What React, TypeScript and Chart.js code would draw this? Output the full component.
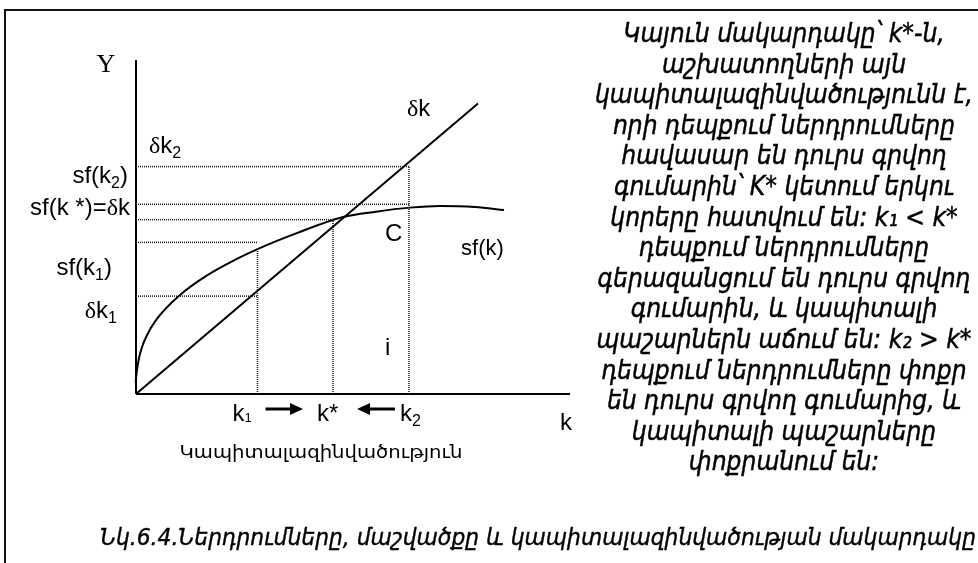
import React, { useEffect, useRef } from "react";
import { Chart, registerables } from "chart.js";

Chart.register(...registerables);

const W = 978;
const H = 563;

// capital per worker: k1, k*, k2
const kNames = ["1", "*", "2"];
const kValues = [2.8, 4.54, 6.29];

// horizontal reference levels: δk2, sf(k2), sf(k*), sf(k1), δk1
const levelValues = [6.81, 5.68, 5.22, 4.54, 2.93];
const levelEndK = [6.29, 6.29, 4.54, 2.8, 2.8];
// top of vertical guides at k1, k*, k2
const dropTops = [4.31, 5.22, 6.81];

// saving curve sf(k)
const curveK = [-0.06, -0.01, 0.023, 0.069, 0.138, 0.23, 0.46, 1.01, 1.61, 2.3, 2.8, 3.69, 4.77, 5.53, 6.31, 7.0, 7.81, 8.48];
const curveY = [-0.12, 0.35, 0.72, 1.08, 1.4, 1.7, 2.21, 2.96, 3.53, 4.03, 4.34, 4.81, 5.3, 5.46, 5.58, 5.63, 5.6, 5.51];

// depreciation line δk
const deltaK = [0, 7.88];
const deltaY = [0, 8.7];

const axisMaxK = 10;
const axisMaxY = 10;

const paragraph = [
  "Կայուն մակարդակը՝ k*-ն,",
  "աշխատողների այն",
  "կապիտալազինվածությունն է,",
  "որի դեպքում ներդրումները",
  "հավասար են դուրս գրվող",
  "գումարին՝ K* կետում երկու",
  "կորերը հատվում են: k₁ < k*",
  "դեպքում ներդրումները",
  "գերազանցում են դուրս գրվող",
  "գումարին, և կապիտալի",
  "պաշարներն աճում են: k₂ > k*",
  "դեպքում ներդրումները փոքր",
  "են դուրս գրվող գումարից, և",
  "կապիտալի պաշարները",
  "փոքրանում են:",
];
const caption = "Նկ.6.4.Ներդրումները, մաշվածքը և կապիտալազինվածության մակարդակը";
const xTitle = "Կապիտալազինվածություն";

const SANS = '"Liberation Sans", Arial, sans-serif';
const SERIF = '"Liberation Serif", "Times New Roman", serif';
const ARM = '"DejaVu Sans", sans-serif';

type Seg = { t: string; f: string; dy?: number; dx?: number };

function drawRich(ctx: CanvasRenderingContext2D, segs: Seg[], x: number, y: number, align: "left" | "right" | "center") {
  let w = 0;
  for (const s of segs) {
    ctx.font = s.f;
    w += ctx.measureText(s.t).width + (s.dx || 0);
  }
  let cx = align === "left" ? x : align === "right" ? x - w : x - w / 2;
  for (const s of segs) {
    ctx.font = s.f;
    cx += s.dx || 0;
    ctx.fillText(s.t, cx, y + (s.dy || 0));
    cx += ctx.measureText(s.t).width;
  }
}

function arrow(ctx: CanvasRenderingContext2D, x0: number, x1: number, y: number) {
  const dir = x1 > x0 ? 1 : -1;
  const hl = 13;
  ctx.beginPath();
  ctx.lineWidth = 3;
  ctx.moveTo(x0, y);
  ctx.lineTo(x1 - dir * hl, y);
  ctx.stroke();
  ctx.beginPath();
  ctx.moveTo(x1, y);
  ctx.lineTo(x1 - dir * hl, y - 6);
  ctx.lineTo(x1 - dir * hl, y + 6);
  ctx.closePath();
  ctx.fill();
}

function fitText(
  ctx: CanvasRenderingContext2D,
  text: string,
  font: string,
  x: number,
  y: number,
  scale: number,
  align: "left" | "center",
  bold = 0
) {
  ctx.save();
  ctx.font = font;
  const w = ctx.measureText(text).width * scale;
  const left = align === "left" ? x : x - w / 2;
  ctx.translate(left, y);
  ctx.scale(scale, 1);
  ctx.fillText(text, 0, 0);
  if (bold > 0) {
    ctx.lineWidth = bold;
    ctx.lineJoin = "round";
    ctx.strokeText(text, 0, 0);
  }
  ctx.restore();
}

const labelPlugin = {
  id: "solowLabels",
  afterDatasetsDraw(chart: any) {
    const ctx: CanvasRenderingContext2D = chart.ctx;
    const xs = chart.scales.x;
    const ys = chart.scales.y;
    const X = (v: number) => xs.getPixelForValue(v);
    const Y = (v: number) => ys.getPixelForValue(v);
    const left = X(0);
    ctx.save();
    ctx.fillStyle = "#000";
    ctx.strokeStyle = "#000";
    ctx.textBaseline = "alphabetic";
    ctx.textAlign = "left";

    const f24 = `24px ${SANS}`;
    const sub = `16px ${SANS}`;
    const d24 = `24px ${SERIF}`;

    // axis names
    drawRich(ctx, [{ t: "Y", f: `26px ${SERIF}` }], left - 30, Y(axisMaxY) + 12, "center");
    drawRich(ctx, [{ t: "k", f: f24 }], X(axisMaxK) - 10, Y(0) + 36, "left");

    // level labels
    drawRich(ctx, [{ t: "δ", f: d24 }, { t: "k", f: f24 }, { t: "2", f: sub, dy: 5 }], left + 13, Y(levelValues[0]) - 14, "left");
    drawRich(ctx, [{ t: "sf(k", f: f24 }, { t: "2", f: sub, dy: 5 }, { t: ")", f: f24 }], left - 8, Y(levelValues[0]) + 16, "right");
    drawRich(ctx, [{ t: "sf(k *)=", f: f24 }, { t: "δ", f: d24 }, { t: "k", f: f24 }], left - 6, Y(levelValues[1]) + 11, "right");
    drawRich(ctx, [{ t: "sf(k", f: f24 }, { t: "1", f: sub, dy: 5 }, { t: ")", f: f24 }], left - 24, Y(levelValues[3]) + 33, "right");
    drawRich(ctx, [{ t: "δ", f: d24 }, { t: "k", f: f24 }, { t: "1", f: sub, dy: 5 }], left - 19, Y(levelValues[4]) + 22, "right");

    // curve labels
    drawRich(ctx, [{ t: "δ", f: d24 }, { t: "k", f: f24 }], X(deltaK[1]) - 71, Y(deltaY[1]) + 13, "left");
    drawRich(ctx, [{ t: "sf(k)", f: `22px ${SANS}` }], X(curveK[curveK.length - 1]) - 43, Y(curveY[curveY.length - 1]) + 45, "left");
    drawRich(ctx, [{ t: "C", f: f24 }], X(kValues[2]) - 24, Y(levelValues[2]) + 21, "left");
    drawRich(ctx, [{ t: "i", f: f24 }], X(kValues[2]) - 24, Y(0) - 39, "left");

    // k tick labels
    const base = Y(0) + 27;
    drawRich(ctx, [{ t: "k", f: f24 }, { t: kNames[0], f: `13px ${SANS}`, dy: 1 }], X(kValues[0]) - 25, base, "left");
    drawRich(ctx, [{ t: "k" + kNames[1], f: f24 }], X(kValues[1]) - 16, base, "left");
    drawRich(ctx, [{ t: "k", f: f24 }, { t: kNames[2], f: sub, dy: 5 }], X(kValues[2]) - 9, base, "left");

    // arrows
    arrow(ctx, X(kValues[0]) + 8, X(kValues[1]) - 30, Y(0) + 15);
    arrow(ctx, X(kValues[2]) - 14, X(kValues[1]) + 24, Y(0) + 15);

    // x title
    ctx.font = `18px ${ARM}`;
    const tw = ctx.measureText(xTitle).width;
    fitText(ctx, xTitle, `18px ${ARM}`, left + 185, Y(0) + 64, 283 / tw, "center");

    // paragraph on the right
    const pf = `italic 27px ${ARM}`;
    ctx.font = pf;
    const pScale = 378 / ctx.measureText(paragraph[2]).width;
    paragraph.forEach((line, i) => {
      fitText(ctx, line, pf, 784, 42 + i * 30.6, pScale, "center", 0.5);
    });

    // caption
    const cf = `italic 23px ${ARM}`;
    ctx.font = cf;
    const cScale = 876 / ctx.measureText(caption).width;
    fitText(ctx, caption, cf, 100, 545, cScale, "left", 0.4);

    ctx.restore();
  },
};

export default function App() {
  const ref = useRef<HTMLCanvasElement>(null);

  useEffect(() => {
    const line = (pts: { x: number; y: number }[], extra: any = {}) => ({
      data: pts,
      showLine: true,
      borderColor: "#000",
      borderWidth: 2,
      pointRadius: 0,
      fill: false,
      clip: false,
      tension: 0,
      ...extra,
    });
    const dotted = { borderDash: [1, 1], borderWidth: 1.6, borderColor: "#222" };

    const datasets: any[] = [];
    levelValues.forEach((v, i) => {
      datasets.push(line([{ x: 0, y: v }, { x: levelEndK[i], y: v }], dotted));
    });
    kValues.forEach((k, i) => {
      datasets.push(line([{ x: k, y: 0 }, { x: k, y: dropTops[i] }], dotted));
    });
    datasets.push(line([{ x: 0, y: 0 }, { x: 0, y: axisMaxY }]));
    datasets.push(line([{ x: 0, y: 0 }, { x: axisMaxK, y: 0 }], { borderWidth: 2.2 }));
    datasets.push(line(deltaK.map((k, i) => ({ x: k, y: deltaY[i] }))));
    datasets.push(line(curveK.map((k, i) => ({ x: k, y: curveY[i] })), { cubicInterpolationMode: "monotone", tension: 0.4 }));

    const chart = new Chart(ref.current as HTMLCanvasElement, {
      type: "scatter",
      data: { datasets },
      options: {
        responsive: false,
        devicePixelRatio: 1,
        animation: false,
        layout: { padding: { left: 136, top: 60, right: W - 570, bottom: H - 394 } },
        plugins: { legend: { display: false }, tooltip: { enabled: false } },
        scales: {
          x: { type: "linear", min: 0, max: axisMaxK, display: false },
          y: { type: "linear", min: 0, max: axisMaxY, display: false },
        },
      },
      plugins: [labelPlugin],
    } as any);
    return () => chart.destroy();
  }, []);

  return (
    <div style={{ position: "fixed", left: 0, top: 0, width: W, height: H, background: "#fff", overflow: "hidden" }}>
      <div
        style={{
          position: "absolute",
          left: 4,
          top: 9,
          right: -10,
          bottom: -10,
          borderTop: "2px solid #111",
          borderLeft: "2px solid #111",
        }}
      />
      <canvas ref={ref} width={W} height={H} style={{ position: "absolute", left: 0, top: 0, width: W, height: H }} />
    </div>
  );
}
